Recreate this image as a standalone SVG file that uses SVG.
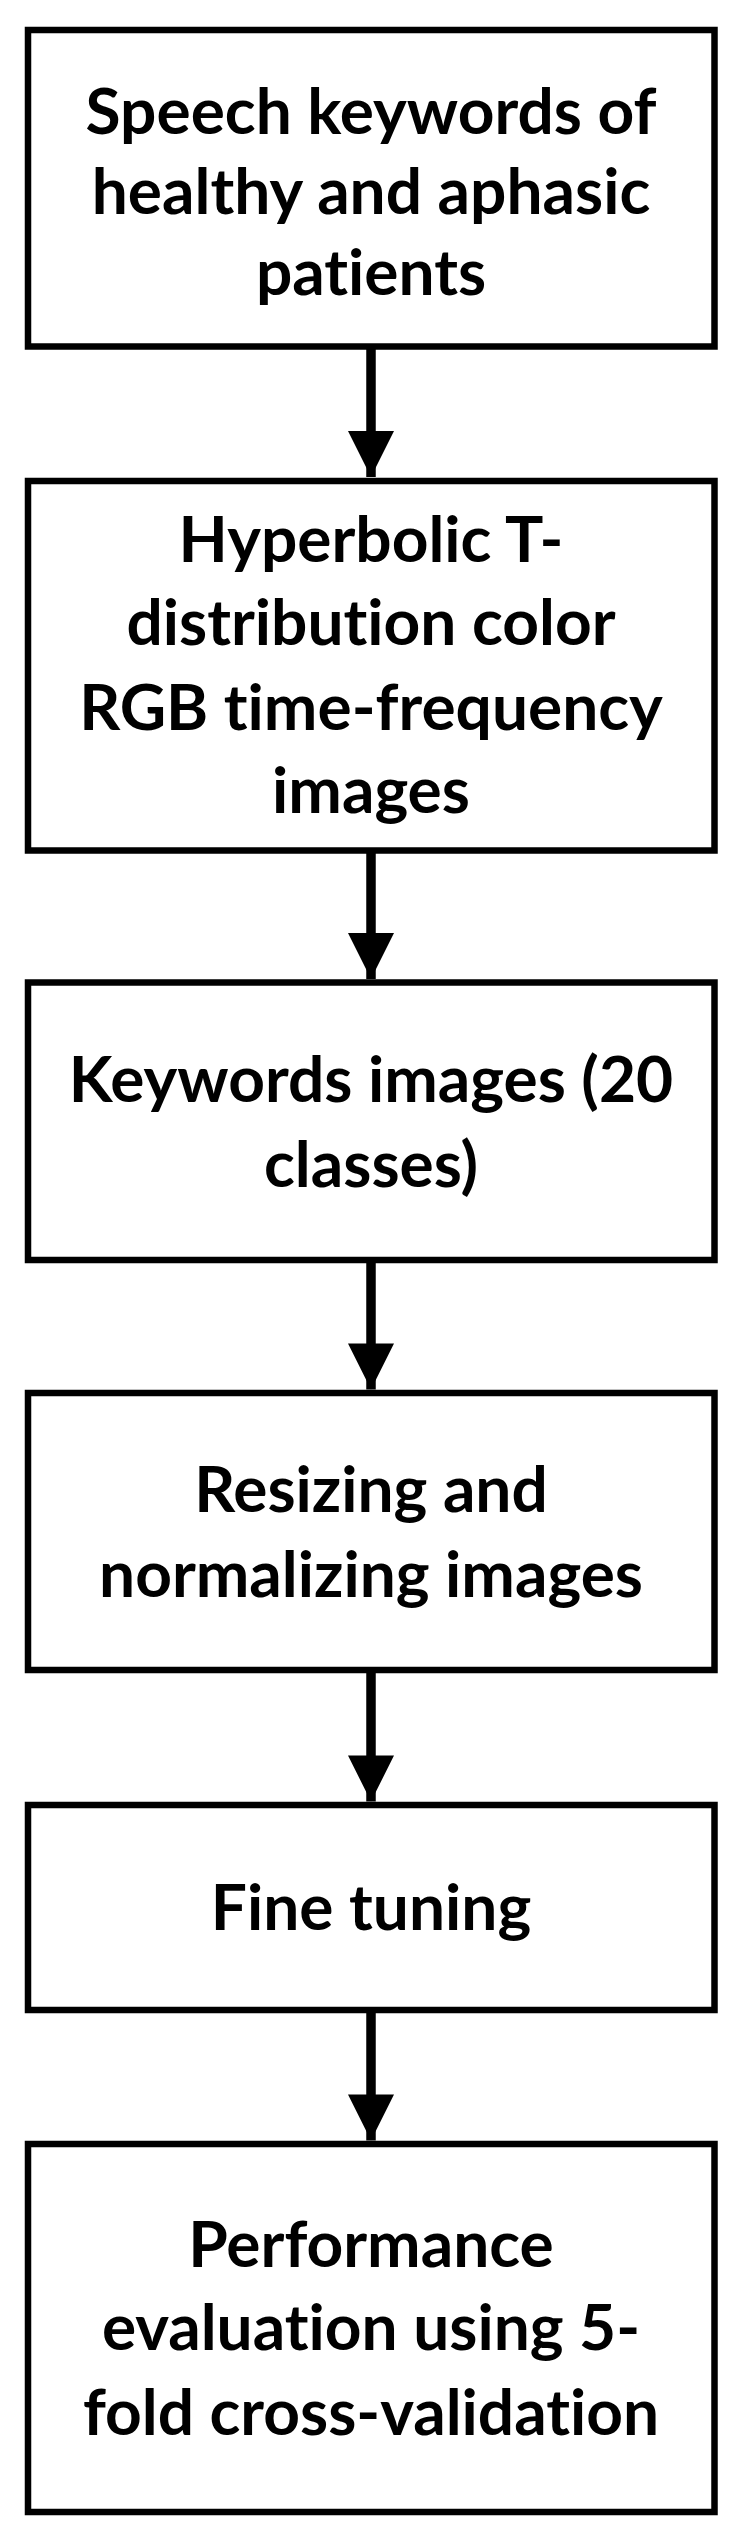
<svg xmlns="http://www.w3.org/2000/svg" width="741" height="2541" viewBox="0 0 741 2541">
<style>
.box{fill:#fff;stroke:#000;stroke-width:6.5}
.lbl{font-family:Lato,"Open Sans","Liberation Sans",sans-serif;font-weight:700;font-size:64px;fill:#000;text-anchor:middle;font-variant-ligatures:none;font-feature-settings:"liga" 0,"clig" 0,"dlig" 0}
.conn line{stroke:#000;stroke-width:9.5}
</style>
<defs>
<marker id="ah" markerUnits="userSpaceOnUse" markerWidth="50" markerHeight="46" refX="49" refY="24.5" orient="auto" viewBox="0 0 50 49">
<path d="M0,0 L49,24.5 L0,49 Z" fill="#000"/>
</marker>
</defs>
<rect width="741" height="2541" fill="#fff"/>
<g id="node1"><rect class="box" x="28" y="30" width="686.5" height="316.5"/>
<text class="lbl" x="371" y="134">Speech keywords of</text>
<text class="lbl" x="371" y="214">healthy and aphasic</text>
<text class="lbl" x="371" y="295">patients</text></g>
<g id="node2"><rect class="box" x="28" y="481" width="686.5" height="369.5"/>
<text class="lbl" x="371" y="562">Hyperbolic T-</text>
<text class="lbl" x="371" y="645">distribution color</text>
<text class="lbl" x="371" y="730">RGB time-frequency</text>
<text class="lbl" x="371" y="813">images</text></g>
<g id="node3"><rect class="box" x="28" y="982.5" width="686.5" height="277.5"/>
<text class="lbl" x="371" y="1102">Keywords images (20</text>
<text class="lbl" x="371" y="1187">classes)</text></g>
<g id="node4"><rect class="box" x="28" y="1393" width="686.5" height="277"/>
<text class="lbl" x="371" y="1512">Resizing and</text>
<text class="lbl" x="371" y="1597">normalizing images</text></g>
<g id="node5"><rect class="box" x="28" y="1805" width="686.5" height="205"/>
<text class="lbl" x="371" y="1930">Fine tuning</text></g>
<g id="node6"><rect class="box" x="28" y="2144" width="686.5" height="368"/>
<text class="lbl" x="371" y="2267">Performance</text>
<text class="lbl" x="371" y="2350">evaluation using 5-</text>
<text class="lbl" x="371" y="2435">fold cross-validation</text></g>
<g id="connectors" class="conn">
<line x1="371" y1="346" x2="371" y2="477" marker-end="url(#ah)"/>
<line x1="371" y1="850" x2="371" y2="979" marker-end="url(#ah)"/>
<line x1="371" y1="1260" x2="371" y2="1389.5" marker-end="url(#ah)"/>
<line x1="371" y1="1670" x2="371" y2="1801.5" marker-end="url(#ah)"/>
<line x1="371" y1="2010" x2="371" y2="2140.5" marker-end="url(#ah)"/>
</g>
</svg>
